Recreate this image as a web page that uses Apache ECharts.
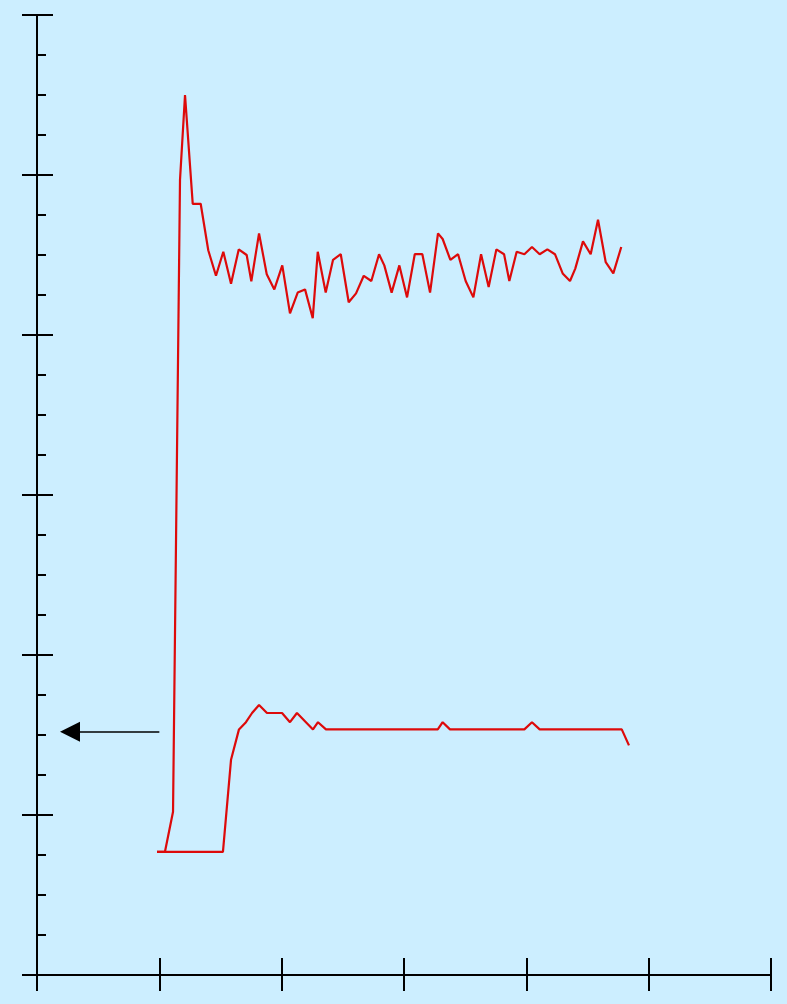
<!DOCTYPE html>
<html>
<head>
<meta charset="utf-8">
<script src="https://cdn.jsdelivr.net/npm/echarts@6/dist/echarts.min.js"></script>
<style>
html,body{margin:0;padding:0;background:#cceeff;}
#chart{width:787px;height:1004px;}
</style>
</head>
<body>
<div id="chart"></div>
<script>
// Upper series (x in axis units, y in axis units)
var upperX = [9.81,10.46,11.12,11.69,12.10,12.73,13.38,14.00,14.63,15.23,15.86,16.49,17.14,17.52,18.15,18.78,19.40,20.05,20.68,21.31,21.91,22.54,22.95,23.60,24.20,24.83,25.48,26.08,26.71,27.33,27.96,28.39,28.99,29.62,30.25,30.88,31.50,32.13,32.78,33.16,33.79,34.42,35.04,35.67,36.30,36.92,37.55,38.18,38.61,39.21,39.84,40.46,41.09,41.72,42.34,42.97,43.57,44.00,44.63,45.26,45.86,46.49,47.11,47.76];
var upperY = [15.4,15.4,20.4,99.4,110,96.4,96.4,90.6,87.4,90.4,86.4,90.7,90.0,86.7,92.7,87.6,85.7,88.7,82.7,85.3,85.7,82.1,90.4,85.3,89.4,90.1,84.1,85.2,87.4,86.75,90.1,88.7,85.3,88.7,84.7,90.1,90.1,85.3,92.7,92.0,89.4,90.1,86.75,84.7,90.1,86.0,90.7,90.1,86.75,90.4,90.1,91.0,90.1,90.7,90.1,87.7,86.75,88.3,91.7,90.1,94.4,89.1,87.7,91.0];
// Lower series
var lowerX = [9.81,10.46,15.20,15.86,16.51,17.08,17.58,18.15,18.80,20.03,20.68,21.25,22.56,22.97,23.62,32.76,33.16,33.76,39.84,40.46,41.09,47.80,48.39];
var lowerY = [15.4,15.4,15.4,26.9,30.7,31.6,32.75,33.75,32.75,32.75,31.6,32.75,30.7,31.6,30.7,30.7,31.6,30.7,30.7,31.6,30.7,30.7,28.7];
// Arrow annotation (axis units)
var arrowFrom = [10.0, 30.4];
var arrowTo = [2.7, 30.4];

function pairs(xs, ys){ return xs.map(function(x,i){ return [x, ys[i]]; }); }

var axisCommonX = {type:'value', min:0, max:60, interval:10, position:'bottom',
  axisLabel:{show:false}, splitLine:{show:false}};
var axisCommonY = {type:'value', min:0, max:120, interval:20, position:'left',
  axisLabel:{show:false}, splitLine:{show:false}};
var lineStyleAxis = {color:'#000', width:2};

var chart = echarts.init(document.getElementById('chart'), null, {renderer:'canvas'});
chart.setOption({
  animation:false,
  backgroundColor:'#cceeff',
  grid:{left:37, right:16, top:15, bottom:29, containLabel:false},
  xAxis:[
    Object.assign({}, axisCommonX, {axisLine:{show:true, lineStyle:lineStyleAxis},
      axisTick:{show:true, inside:false, length:16, lineStyle:lineStyleAxis}}),
    Object.assign({}, axisCommonX, {axisLine:{show:false},
      axisTick:{show:true, inside:true, length:17, lineStyle:lineStyleAxis}})
  ],
  yAxis:[
    Object.assign({}, axisCommonY, {axisLine:{show:true, lineStyle:lineStyleAxis},
      axisTick:{show:true, inside:true, length:16, lineStyle:lineStyleAxis},
      minorTick:{show:true, splitNumber:4, length:9, lineStyle:{color:'#000', width:2}}}),
    Object.assign({}, axisCommonY, {axisLine:{show:false},
      axisTick:{show:true, inside:false, length:15, lineStyle:lineStyleAxis}})
  ],
  series:[
    {type:'line', xAxisIndex:0, yAxisIndex:0, data:pairs(upperX, upperY), showSymbol:false,
      lineStyle:{color:'#dd0a0a', width:2.2}, itemStyle:{color:'#dd0a0a'}, z:3},
    {type:'line', xAxisIndex:0, yAxisIndex:0, data:pairs(lowerX, lowerY), showSymbol:false,
      lineStyle:{color:'#dd0a0a', width:2.2}, itemStyle:{color:'#dd0a0a'}, z:3,
      markLine:{silent:true, symbol:['none','triangle'], symbolSize:[20,20],
        label:{show:false},
        lineStyle:{color:'#000', width:1.5, type:'solid'},
        itemStyle:{color:'#000'},
        data:[[{coord:arrowFrom},{coord:arrowTo}]]}}
  ]
});
</script>
</body>
</html>
